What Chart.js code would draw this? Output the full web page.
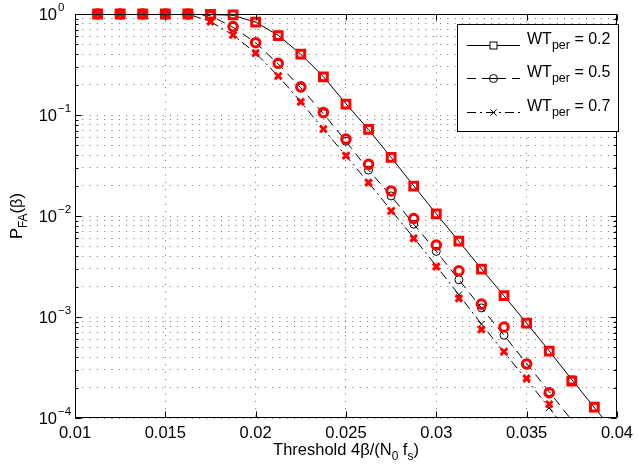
<!DOCTYPE html>
<html>
<head>
<meta charset="utf-8">
<script src="https://cdn.jsdelivr.net/npm/chart.js@4.4.0/dist/chart.umd.min.js"></script>
<style>
  html, body { margin: 0; padding: 0; background: #fff; }
  #wrap { width: 639px; height: 466px; }
</style>
</head>
<body>
<div id="wrap"><canvas id="pfa-chart" width="639" height="466"></canvas></div>
<script>
// threshold grid 4*beta/(N0 fs)
var thresholds = [0.01125, 0.0125, 0.01375, 0.015, 0.01625, 0.0175, 0.01875, 0.02, 0.02125, 0.0225,
  0.02375, 0.025, 0.02625, 0.0275, 0.02875, 0.03, 0.03125, 0.0325, 0.03375, 0.035, 0.03625, 0.0375, 0.03875];
// analytic curves run one step further (below the axis floor)
var theoryThresholds = thresholds.concat([0.04]);

var wtLabels = ['0.2', '0.5', '0.7'];

// simulation (red markers)
var simWT02 = [1, 1, 1, 1, 1, 0.99, 0.98, 0.83, 0.61, 0.40, 0.239, 0.128, 0.0722, 0.0381, 0.0198, 0.0105,
  0.00565, 0.00298, 0.00163, 0.00087, 0.00046, 0.000232, 0.000128];
var simWT05 = [1, 1, 1, 1, 1, 0.96, 0.75, 0.52, 0.325, 0.19, 0.106, 0.0578, 0.0325, 0.0177, 0.00945, 0.00516,
  0.00287, 0.00134, 0.000796, 0.000343, 0.000178, null, null];
var simWT07 = [1, 1, 1, 1, 1, 0.84, 0.62, 0.41, 0.243, 0.135, 0.0727, 0.0396, 0.0214, 0.0112, 0.0060, 0.00315,
  0.00153, 0.000755, 0.000453, 0.000247, 0.000137, null, null];

// analytic (black lines)
var thWT02 = [1, 1, 1, 1, 1, 0.99, 0.97, 0.83, 0.615, 0.40, 0.24, 0.129, 0.0716, 0.038, 0.0199, 0.0105,
  0.00562, 0.00299, 0.00162, 0.00087, 0.000462, 0.00024, 0.000127, 0.0000675];
var thWT05 = [1, 1, 1, 1, 1, 0.96, 0.74, 0.52, 0.32, 0.186, 0.103, 0.055, 0.0285, 0.0158, 0.0083, 0.00447,
  0.00234, 0.00123, 0.00066, 0.000347, 0.000182, 0.000095, 0.00005, 0.000026];
var thWT07 = [1, 1, 1, 1, 1, 0.84, 0.62, 0.41, 0.243, 0.135, 0.0724, 0.0394, 0.0214, 0.01135, 0.0061, 0.0032,
  0.00166, 0.00085, 0.000447, 0.00024, 0.000126, 0.000065, 0.000033, 0.000017];

var xTickLabels = ['0.01', '0.015', '0.02', '0.025', '0.03', '0.035', '0.04'];
var yMajorTicks = [1e-4, 1e-3, 1e-2, 1e-1, 1];
var yExponents = ['\u22124', '\u22123', '\u22122', '\u22121', '0'];

var FONT = '"Liberation Sans", Arial, Helvetica, sans-serif';

function pts(xs, ys) {
  return xs.map(function (x, i) { return { x: x, y: ys[i] }; });
}

// minor log grid: 1..9 x 10^k
var yGrid = [];
yMajorTicks.forEach(function (m, i) {
  if (i === yMajorTicks.length - 1) { yGrid.push({ value: m, major: true }); return; }
  for (var k = 1; k <= 9; k++) yGrid.push({ value: m * k, major: k === 1 });
});

function textRuns(ctx, runs, x, y, size, align, subScale) {
  var main = size + 'px ' + FONT;
  var small = (size * (subScale || 0.72)).toFixed(1) + 'px ' + FONT;
  var w = 0;
  runs.forEach(function (r) { ctx.font = r[1] ? small : main; w += ctx.measureText(r[0]).width; });
  var cx = align === 'center' ? x - w / 2 : (align === 'right' ? x - w : x);
  ctx.textAlign = 'left';
  ctx.textBaseline = 'alphabetic';
  runs.forEach(function (r) {
    ctx.font = r[1] ? small : main;
    var dy = r[1] === 1 ? size * 0.3 : (r[1] === -1 ? -size * 0.45 : 0);
    ctx.fillText(r[0], cx, y + dy);
    cx += ctx.measureText(r[0]).width;
  });
}

function seg(ctx, x1, y1, x2, y2) {
  ctx.beginPath(); ctx.moveTo(x1, y1); ctx.lineTo(x2, y2); ctx.stroke();
}

var matlabAxes = {
  id: 'matlabAxes',
  afterDraw: function (chart) {
    var ctx = chart.ctx, a = chart.chartArea, xs = chart.scales.x, ys = chart.scales.y;
    var L = Math.round(a.left) + 0.5, R = Math.round(a.right) - 0.5;
    var T = Math.round(a.top) + 0.5, B = Math.round(a.bottom) - 0.5;
    ctx.save();
    ctx.strokeStyle = '#000';
    ctx.fillStyle = '#000';
    ctx.lineWidth = 1;
    ctx.setLineDash([]);
    ctx.strokeRect(L, T, R - L, B - T);

    // inward tick marks
    ys.ticks.forEach(function (t) {
      var py = Math.round(ys.getPixelForValue(t.value)) + 0.5;
      var len = t.major ? 6 : 3;
      seg(ctx, L, py, L + len, py);
      seg(ctx, R, py, R - len, py);
    });
    xs.ticks.forEach(function (t) {
      var px = Math.round(xs.getPixelForValue(t.value)) + 0.5;
      seg(ctx, px, B, px, B - 6);
      seg(ctx, px, T, px, T + 6);
    });

    // y tick labels 10^k
    yMajorTicks.forEach(function (v, i) {
      var py = ys.getPixelForValue(v);
      ctx.font = '16.5px ' + FONT;
      ctx.textAlign = 'right';
      ctx.textBaseline = 'middle';
      ctx.fillText('10', 57, py + 1);
      ctx.font = '11.5px ' + FONT;
      ctx.textAlign = 'left';
      ctx.fillText(yExponents[i], 58, py - 6);
    });

    // axis titles
    textRuns(ctx, [['Threshold 4\u03b2/(N', 0], ['0', 1], [' f', 0], ['s', 1], [')', 0]],
      (a.left + a.right) / 2, 455, 16.5, 'center');
    ctx.save();
    ctx.translate(22, (a.top + a.bottom) / 2);
    ctx.rotate(-Math.PI / 2);
    textRuns(ctx, [['P', 0], ['FA', 1], ['(\u03b2)', 0]], 0, 0, 16.5, 'center');
    ctx.restore();

    // legend
    var bx = 457.5, by = 24.5, bw = 161, bh = 107;
    ctx.fillStyle = '#fff';
    ctx.fillRect(bx, by, bw, bh);
    ctx.strokeRect(bx, by, bw, bh);
    var rows = [45, 78, 112];
    var dashes = [[], [9, 6], [9, 4, 2, 4]];
    rows.forEach(function (ry, i) {
      ctx.strokeStyle = '#000';
      ctx.lineWidth = 1;
      ctx.setLineDash(dashes[i]);
      seg(ctx, 467, ry + 0.5, 520, ry + 0.5);
      ctx.setLineDash([]);
      var mx = 493.5, my = ry + 0.5;
      if (i === 0) {
        ctx.fillStyle = '#fff';
        ctx.fillRect(mx - 3.5, my - 3.5, 7, 7);
        ctx.strokeRect(mx - 3.5, my - 3.5, 7, 7);
      } else if (i === 1) {
        ctx.fillStyle = '#fff';
        ctx.beginPath(); ctx.arc(mx, my, 4, 0, Math.PI * 2); ctx.fill(); ctx.stroke();
        seg(ctx, mx - 4, my, mx + 4, my);
      } else {
        seg(ctx, mx - 3.2, my - 3.2, mx + 3.2, my + 3.2);
        seg(ctx, mx - 3.2, my + 3.2, mx + 3.2, my - 3.2);
      }
      ctx.fillStyle = '#000';
      textRuns(ctx, [['WT', 0], ['per', 1], [' = ' + wtLabels[i], 0]], 527, ry - 1, 16, 'left', 0.78);
    });
    ctx.restore();
  }
};

var red = '#ff0000';
var hollow = 'rgba(0,0,0,0)';
var hideBelowFloor = function (r) {
  return function (c) { return c.raw && c.raw.y < 1e-4 ? 0 : r; };
};
var gridColor = 'rgba(0,0,0,0.55)';

var ctx = document.getElementById('pfa-chart').getContext('2d');
new Chart(ctx, {
  type: 'line',
  data: {
    datasets: [
      { label: 'sim 0.2', data: pts(thresholds, simWT02), showLine: false, clip: false,
        pointStyle: 'rect', pointRadius: 5.5, pointBorderWidth: 3, pointBorderColor: red, pointBackgroundColor: hollow },
      { label: 'sim 0.5', data: pts(thresholds, simWT05), showLine: false, clip: false,
        pointStyle: 'circle', pointRadius: 4.3, pointBorderWidth: 3, pointBorderColor: red, pointBackgroundColor: hollow },
      { label: 'sim 0.7', data: pts(thresholds, simWT07), showLine: false, clip: false,
        pointStyle: 'crossRot', pointRadius: 4.6, pointBorderWidth: 3, pointBorderColor: red, pointBackgroundColor: hollow },
      { label: 'WT 0.2', data: pts(theoryThresholds, thWT02), borderColor: '#000', borderWidth: 1, tension: 0,
        pointStyle: 'rect', pointRadius: hideBelowFloor(5), pointBorderWidth: 1, pointBorderColor: '#000', pointBackgroundColor: hollow },
      { label: 'WT 0.5', data: pts(theoryThresholds, thWT05), borderColor: '#000', borderWidth: 1, borderDash: [9, 6], tension: 0,
        pointStyle: 'circle', pointRadius: hideBelowFloor(4), pointBorderWidth: 1, pointBorderColor: '#000', pointBackgroundColor: hollow },
      { label: 'WT 0.7', data: pts(theoryThresholds, thWT07), borderColor: '#000', borderWidth: 1, borderDash: [9, 4, 2, 4], tension: 0,
        pointStyle: 'crossRot', pointRadius: hideBelowFloor(4.5), pointBorderWidth: 1, pointBorderColor: '#000', pointBackgroundColor: hollow }
    ]
  },
  options: {
    responsive: false,
    animation: false,
    events: [],
    layout: { padding: { top: 14, right: 18, left: 0, bottom: 0 } },
    plugins: { legend: { display: false }, tooltip: { enabled: false } },
    scales: {
      x: {
        type: 'linear',
        min: 0.01, max: 0.04,
        afterFit: function (s) { s.height = 48; },
        ticks: {
          stepSize: 0.005,
          autoSkip: false,
          maxRotation: 0,
          padding: 6,
          color: '#000',
          font: { family: FONT, size: 16.5 },
          callback: function (v, i) { return xTickLabels[i]; }
        },
        grid: { color: gridColor, lineWidth: 1, drawTicks: false },
        border: { display: false, dash: [1, 6.3] }
      },
      y: {
        type: 'logarithmic',
        min: 1e-4, max: 1,
        afterFit: function (s) { s.width = 75; },
        afterBuildTicks: function (s) { s.ticks = yGrid.map(function (t) { return { value: t.value, major: t.major }; }); },
        ticks: { display: false },
        grid: { color: gridColor, lineWidth: 1, drawTicks: false },
        border: { display: false, dash: [1, 6.3] }
      }
    }
  },
  plugins: [matlabAxes]
});
</script>
</body>
</html>
